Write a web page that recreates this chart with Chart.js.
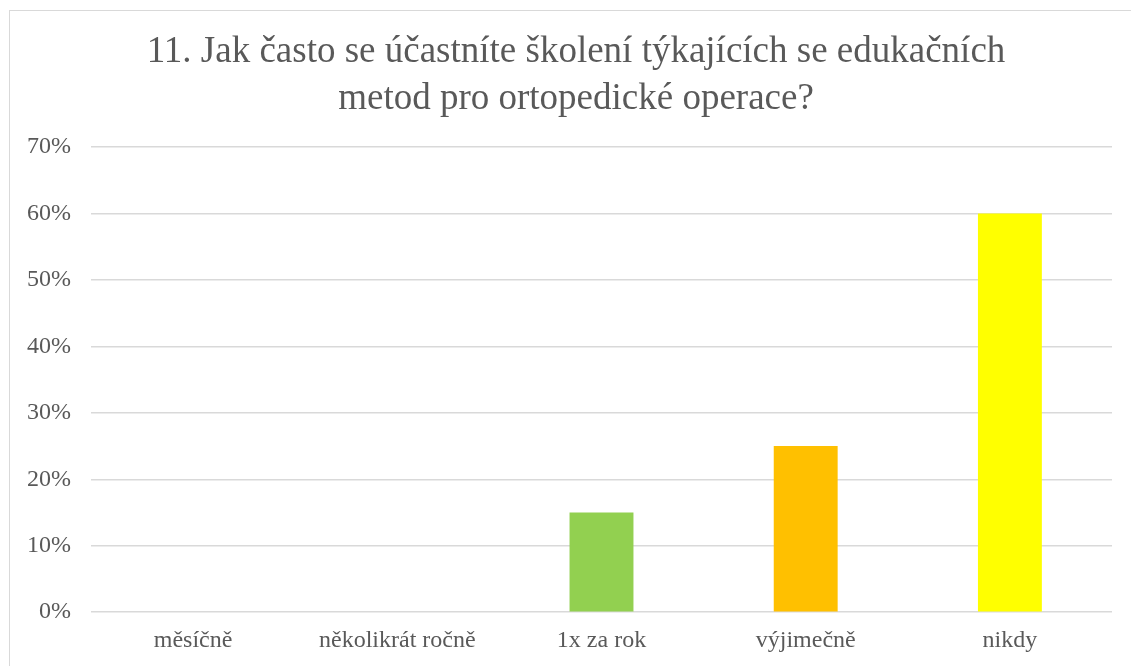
<!DOCTYPE html>
<html>
<head>
<meta charset="utf-8">
<script src="https://cdn.jsdelivr.net/npm/chart.js@4"></script>
<style>
  html, body { margin: 0; padding: 0; background: #fff; overflow: hidden; }
  #frame { position: absolute; left: 9px; top: 10px; width: 1140px; height: 690px; border: 1px solid #d9d9d9; }
  #box { position: absolute; left: 0; top: 0; width: 1121px; height: 670px; }
</style>
</head>
<body>
<div id="frame"><div id="box"><canvas id="chart"></canvas></div></div>
<script>
// chart data
const categories = ['měsíčně', 'několikrát ročně', '1x za rok', 'výjimečně', 'nikdy'];
const shares = [0, 0, 15, 25, 60];
const barColors = ['#5b9bd5', '#ed7d31', '#92d050', '#ffc000', '#ffff00'];
const titleLines = ['11. Jak často se účastníte školení týkajících se edukačních', 'metod pro ortopedické operace?'];

const textColor = '#595959';
const serif = "'Liberation Serif', 'Times New Roman', serif";

// the title sits centred on the whole frame, not on the plot
const titleShift = {
    id: 'titleShift',
    afterLayout(chart) {
        const t = chart.titleBlock;
        if (t) { t.left += 15; t.right += 15; }
    }
};

new Chart(document.getElementById('chart').getContext('2d'), {
    type: 'bar',
    data: {
        labels: categories,
        datasets: [{
            data: shares,
            backgroundColor: barColors,
            categoryPercentage: 1,
            barPercentage: 0.313
        }]
    },
    plugins: [titleShift],
    options: {
        responsive: true,
        maintainAspectRatio: false,
        animation: false,
        layout: { padding: { top: 0, right: 19, bottom: 20, left: 0 } },
        plugins: {
            legend: { display: false },
            tooltip: { enabled: false },
            title: {
                display: true,
                text: titleLines,
                color: textColor,
                font: { family: serif, size: 37, weight: 'normal', lineHeight: 1.27 },
                padding: { top: 18, bottom: 24 }
            }
        },
        scales: {
            x: {
                grid: { display: false },
                border: { display: false },
                ticks: { color: textColor, font: { family: serif, size: 24 }, padding: 6, maxRotation: 0 }
            },
            y: {
                min: 0,
                max: 70,
                afterFit: (scale) => { scale.width = 81; },
                grid: { color: '#d9d9d9', lineWidth: 1.5, drawTicks: false },
                border: { display: false },
                ticks: {
                    stepSize: 10,
                    color: textColor,
                    font: { family: serif, size: 24 },
                    padding: 20,
                    callback: (v) => v + '%'
                }
            }
        }
    }
});
</script>
</body>
</html>
